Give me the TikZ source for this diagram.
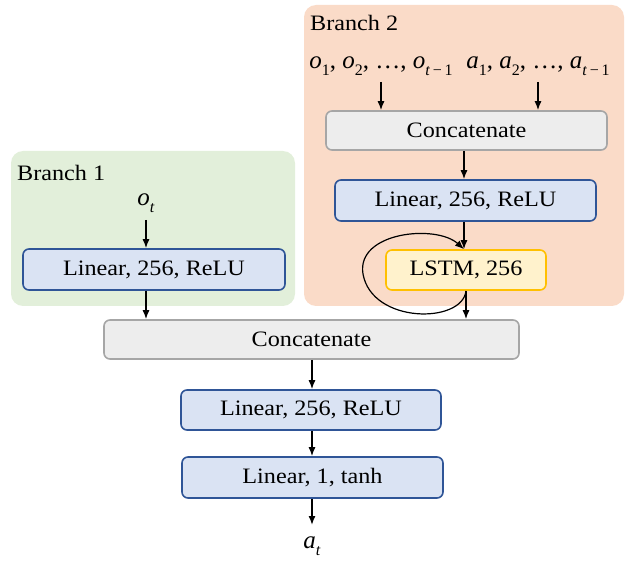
\documentclass[tikz,border=0pt]{standalone}
\usepackage{fontspec}
\setmainfont{Liberation Serif}[FakeStretch=1.1]
\newfontfamily\labfont{Liberation Serif}
\usetikzlibrary{arrows.meta}
\definecolor{bgGreen}{HTML}{E2EFDA}
\definecolor{bgPeach}{HTML}{FADBC8}
\definecolor{blueFill}{HTML}{DAE3F3}
\definecolor{blueLine}{HTML}{2F5597}
\definecolor{grayFill}{HTML}{EDEDED}
\definecolor{grayLine}{HTML}{A6A6A6}
\definecolor{lstmFill}{HTML}{FFF2CC}
\definecolor{lstmLine}{HTML}{FFC000}
\newcommand{\vs}[2]{\textit{#1}\raisebox{-0.28em}{\fontsize{16}{16}\selectfont #2}}
\tikzset{
  every node/.style={font=\fontsize{22}{26}\selectfont, inner sep=0pt},
  mathlab/.style={font=\labfont\fontsize{25}{30}\selectfont},
  layerbox/.style={draw, rounded corners=6pt, line width=1.6pt},
  linbox/.style={layerbox, fill=blueFill, draw=blueLine},
  catbox/.style={layerbox, fill=grayFill, draw=grayLine},
  lstmbox/.style={layerbox, fill=lstmFill, draw=lstmLine},
  flow/.style={-{Latex[length=9pt,width=7pt]}, line width=1.4pt},
}
\begin{document}
\begin{tikzpicture}[x=1pt,y=-1pt]
\useasboundingbox (0,0) rectangle (633,567);
% panels
\fill[bgPeach, rounded corners=12pt] (304,5) rectangle (624,306);
\fill[bgGreen, rounded corners=12pt] (11,151) rectangle (295,306);
\node[anchor=west] (b2lab) at (310,23) {Branch 2};
\node[anchor=west] (b1lab) at (17,173) {Branch 1};
% branch 1
\node[mathlab] (ot) at (146,203) {\vs{o}{\textit{t}}};
\node[linbox, minimum width=262pt, minimum height=41pt] (lin1) at (154,269.5) {Linear, 256, ReLU};
% branch 2
\node[mathlab] (obs) at (381,66) {\vs{o}{1}, \vs{o}{2}, …, \vs{o}{\textit{t}\,−\,1}};
\node[mathlab] (act) at (538,66) {\vs{a}{1}, \vs{a}{2}, …, \vs{a}{\textit{t}\,−\,1}};
\node[catbox, minimum width=281pt, minimum height=39pt] (cat2) at (466.5,130.5) {Concatenate};
\node[linbox, minimum width=261pt, minimum height=41pt] (lin2) at (465.5,200.5) {Linear, 256, ReLU};
\node[lstmbox, minimum width=160pt, minimum height=40pt] (lstm) at (466,270) {LSTM, 256};
% merge
\node[catbox, minimum width=415pt, minimum height=39pt] (cat) at (311.5,339.5) {Concatenate};
\node[linbox, minimum width=260pt, minimum height=40pt] (lin3) at (311,410) {Linear, 256, ReLU};
\node[linbox, minimum width=261pt, minimum height=41pt] (lin4) at (312.5,477.5) {Linear, 1, tanh};
\node[mathlab] (at) at (312,546) {\vs{a}{\textit{t}}};
% arrows
\coordinate (otEnd) at (146,220);
\draw[flow] (otEnd) -- (otEnd |- lin1.north);
\draw[flow] (lin1.south -| otEnd) -- (cat.north -| otEnd);
\coordinate (obsEnd) at (381,82);
\coordinate (actEnd) at (538,82);
\draw[flow] (obsEnd) -- (obsEnd |- cat2.north);
\draw[flow] (actEnd) -- (actEnd |- cat2.north);
\coordinate (c2x) at (464,150);
\draw[flow] (cat2.south -| c2x) -- (lin2.north -| c2x);
\draw[flow] (lin2.south -| c2x) -- (lstm.north -| c2x);
\draw[flow] (lstm.south) -- (cat.north -| lstm.south);
\coordinate (atEnd) at (312,525);
\draw[flow] (cat.south -| atEnd) -- (lin3.north -| atEnd);
\draw[flow] (lin3.south -| atEnd) -- (lin4.north -| atEnd);
\draw[flow] (lin4.south -| atEnd) -- (atEnd);
% recurrent loop
\coordinate (loopS) at (466,291);
\draw[flow, line width=1.2pt] (loopS) .. controls (462,324) and (372,324) .. (363,274)
  .. controls (356,232) and (436,224) .. (lstm.north -| c2x);
\end{tikzpicture}
\end{document}
